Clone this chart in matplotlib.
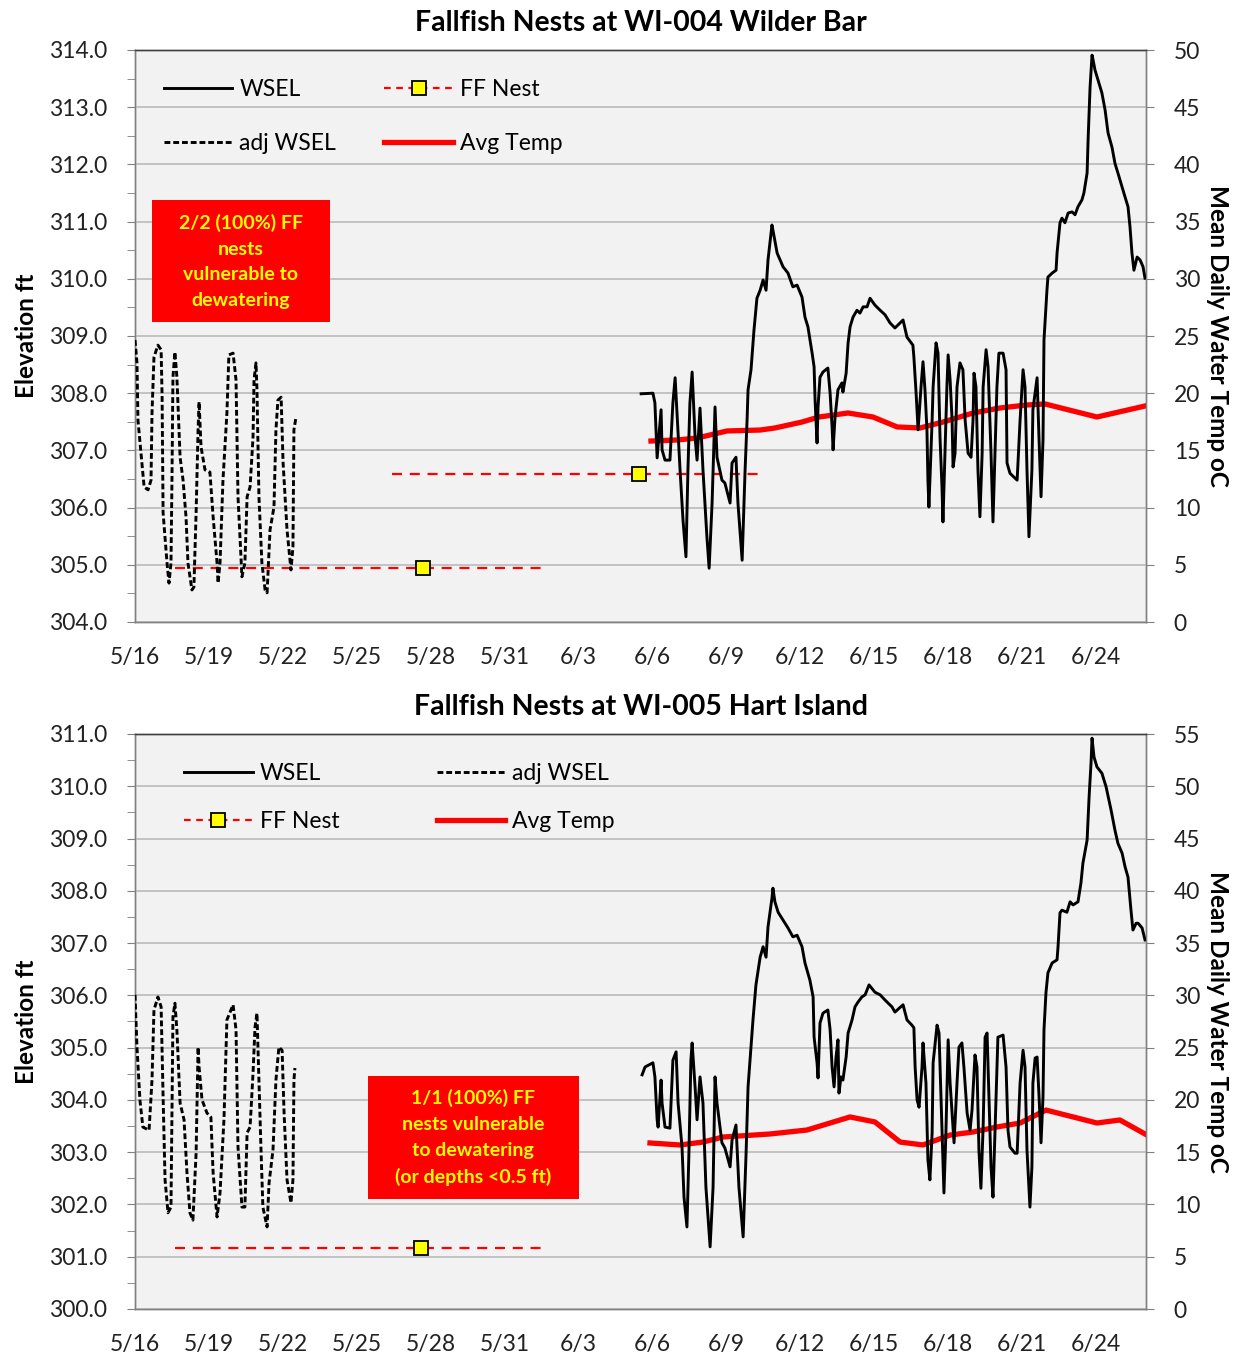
import datetime as dt
import matplotlib
matplotlib.use("Agg")
import matplotlib.pyplot as plt
from matplotlib.patches import Rectangle
from matplotlib.ticker import MultipleLocator, FormatStrFormatter

plt.rcParams['font.family'] = ['Lato', 'DejaVu Sans']

# ---------------- data (x = days since 5/16) ----------------
base_date = dt.date(2019, 5, 16)
tick_days = list(range(0, 40, 3))
tick_labels = [f"{(base_date + dt.timedelta(days=d)).month}/{(base_date + dt.timedelta(days=d)).day}" for d in tick_days]

# --- WI-004 Wilder Bar ---
top_wsel_day = [20.54, 21.02, 21.10, 21.19, 21.35, 21.39, 21.51, 21.71, 21.83, 21.92, 22.12, 22.24, 22.36, 22.44, 22.52, 22.61,
                22.73, 22.81, 22.93, 23.05, 23.21, 23.30, 23.42, 23.54, 23.62, 23.82, 23.94, 24.15, 24.23, 24.39, 24.47, 24.64,
                24.76, 24.84, 24.88, 25.00, 25.12, 25.24, 25.37, 25.49, 25.61, 25.69, 25.85, 25.89, 26.06, 26.30, 26.50, 26.70,
                26.87, 27.07, 27.19, 27.31, 27.48, 27.56, 27.60, 27.68, 27.72, 27.80, 27.92, 28.12, 28.21, 28.29, 28.33, 28.41,
                28.53, 28.69, 28.73, 28.86, 28.94, 29.02, 29.14, 29.30, 29.42, 29.55, 29.71, 29.83, 30.03, 30.24, 30.44, 30.64,
                30.84, 31.05, 31.17, 31.33, 31.57, 31.61, 31.70, 31.78, 31.90, 31.98, 32.06, 32.14, 32.18, 32.22, 32.35, 32.39,
                32.51, 32.59, 32.67, 32.75, 32.79, 32.87, 32.95, 33.00, 33.08, 33.16, 33.20, 33.28, 33.36, 33.48, 33.60, 33.69,
                33.81, 33.93, 34.01, 34.05, 34.13, 34.21, 34.29, 34.38, 34.42, 34.54, 34.62, 34.74, 34.82, 34.90, 34.98, 35.06,
                35.23, 35.35, 35.39, 35.51, 35.80, 35.92, 36.04, 36.12, 36.20, 36.28, 36.40, 36.44, 36.61, 36.69, 36.77, 36.85,
                36.89, 37.01, 37.05, 37.22, 37.38, 37.42, 37.54, 37.62, 37.74, 37.87, 38.03, 38.15, 38.27, 38.43, 38.51, 38.64,
                38.68, 38.76, 38.84, 38.88, 38.96, 39.08, 39.24, 39.37, 39.49, 39.65, 39.77, 39.89, 40.06, 40.18, 40.30, 40.38,
                40.46, 40.54, 40.67, 40.79, 40.91, 40.99]
top_wsel = [307.99, 308.00, 307.83, 306.87, 307.71, 307.01, 306.83, 306.83, 307.83, 308.27, 306.66, 305.78, 305.14, 306.66, 307.83, 308.37,
            307.23, 306.83, 307.74, 306.66, 305.49, 304.94, 306.08, 307.76, 306.88, 306.48, 306.43, 306.08, 306.78, 306.88, 306.08, 305.08,
            306.66, 307.53, 308.06, 308.41, 309.10, 309.66, 309.80, 309.98, 309.80, 310.33, 310.94, 310.85, 310.45, 310.21, 310.10, 309.86,
            309.89, 309.68, 309.33, 309.16, 308.70, 308.46, 307.88, 307.13, 307.76, 308.28, 308.37, 308.44, 308.00, 307.41, 307.01, 307.58,
            308.06, 308.18, 308.02, 308.35, 308.88, 309.16, 309.33, 309.45, 309.40, 309.51, 309.51, 309.66, 309.54, 309.45, 309.37, 309.23,
            309.14, 309.23, 309.28, 308.98, 308.84, 308.63, 308.00, 307.36, 308.11, 308.55, 308.06, 307.36, 306.48, 306.01, 307.53, 308.11,
            308.88, 308.70, 307.23, 306.36, 305.75, 306.95, 308.11, 308.67, 308.23, 307.53, 306.71, 306.95, 308.11, 308.53, 308.41, 307.53,
            306.95, 306.88, 307.53, 308.35, 308.11, 306.66, 305.84, 306.95, 308.11, 308.76, 308.46, 306.95, 305.75, 306.95, 308.11, 308.70,
            308.70, 308.41, 306.78, 306.60, 306.48, 307.53, 308.41, 308.11, 306.66, 305.49, 306.66, 307.71, 308.27, 307.18, 306.19, 307.18,
            308.93, 309.80, 310.03, 310.10, 310.15, 310.45, 310.98, 311.06, 310.98, 311.15, 311.17, 311.12, 311.26, 311.38, 311.50, 311.85,
            312.43, 313.35, 313.91, 313.83, 313.65, 313.48, 313.25, 312.95, 312.55, 312.30, 312.02, 311.85, 311.60, 311.43, 311.26, 310.91,
            310.45, 310.15, 310.38, 310.33, 310.21, 310.01]

top_adj_day = [0.00, 0.08, 0.12, 0.28, 0.37, 0.53, 0.65, 0.69, 0.77, 0.93, 1.06, 1.10, 1.14, 1.30, 1.38, 1.46, 1.50, 1.54, 1.62, 1.70,
               1.83, 1.95, 2.07, 2.15, 2.31, 2.39, 2.48, 2.56, 2.60, 2.68, 2.84, 3.04, 3.17, 3.33, 3.37, 3.45, 3.57, 3.73, 3.81, 3.98,
               4.10, 4.18, 4.34, 4.46, 4.55, 4.67, 4.79, 4.83, 4.91, 4.95, 5.03, 5.15, 5.28, 5.36, 5.48, 5.64, 5.72, 5.80, 5.93, 6.01,
               6.17, 6.33, 6.41, 6.45, 6.53]
top_adj = [308.93, 308.53, 307.53, 306.78, 306.36, 306.31, 306.48, 307.65, 308.63, 308.84, 308.76, 307.93, 305.91, 305.03, 304.68, 305.03,
           306.48, 308.28, 308.72, 308.28, 306.88, 306.48, 305.84, 305.03, 304.56, 304.61, 305.91, 307.36, 307.85, 307.06, 306.66, 306.62,
           305.84, 305.03, 304.68, 305.03, 306.48, 307.65, 308.67, 308.70, 308.23, 306.19, 304.79, 305.03, 306.19, 306.36, 307.23, 308.23,
           308.53, 308.06, 306.19, 305.03, 304.56, 304.51, 305.61, 306.01, 307.36, 307.88, 307.93, 306.78, 305.61, 304.91, 305.31, 307.36,
           307.57]

top_temp_day = [20.94, 22.00, 22.81, 23.34, 24.03, 25.37, 25.97, 27.07, 27.76, 28.94, 29.95, 30.93, 31.86, 32.79, 34.01, 35.11,
                36.20, 36.93, 39.04, 40.99]
top_temp = [15.82, 15.91, 16.08, 16.35, 16.70, 16.78, 16.96, 17.48, 17.92, 18.27, 17.92, 17.05, 16.96, 17.48, 18.27, 18.71,
            18.97, 19.06, 17.92, 18.88]

top_nest_start = [1.62, 10.43]
top_nest_day = [11.69, 20.45]
top_nest_end = [16.64, 25.45]
top_nest_elev = [304.94, 306.59]

# --- WI-005 Hart Island ---
bot_wsel_day = [20.58, 20.70, 21.02, 21.10, 21.19, 21.23, 21.35, 21.39, 21.51, 21.71, 21.83, 21.96, 22.04, 22.20, 22.28, 22.40,
                22.48, 22.56, 22.61, 22.73, 22.81, 22.93, 23.05, 23.17, 23.34, 23.46, 23.54, 23.62, 23.82, 23.94, 24.15, 24.23,
                24.39, 24.51, 24.68, 24.80, 24.88, 25.00, 25.08, 25.20, 25.37, 25.49, 25.61, 25.69, 25.85, 25.89, 25.97, 26.10,
                26.30, 26.50, 26.70, 26.87, 27.07, 27.19, 27.39, 27.52, 27.56, 27.68, 27.72, 27.80, 27.92, 28.12, 28.21, 28.29,
                28.37, 28.45, 28.53, 28.57, 28.65, 28.73, 28.86, 28.94, 29.10, 29.22, 29.34, 29.50, 29.63, 29.79, 30.03, 30.24,
                30.44, 30.72, 30.84, 31.17, 31.33, 31.53, 31.61, 31.66, 31.74, 31.82, 31.94, 31.98, 32.10, 32.18, 32.26, 32.35,
                32.39, 32.55, 32.63, 32.75, 32.83, 32.91, 33.00, 33.08, 33.20, 33.24, 33.36, 33.44, 33.56, 33.64, 33.77, 33.89,
                33.97, 34.09, 34.17, 34.25, 34.33, 34.42, 34.50, 34.58, 34.66, 34.74, 34.82, 34.90, 34.98, 35.02, 35.23, 35.35,
                35.43, 35.51, 35.71, 35.80, 35.92, 36.04, 36.12, 36.20, 36.32, 36.40, 36.44, 36.53, 36.61, 36.69, 36.77, 36.85,
                36.89, 36.97, 37.05, 37.22, 37.42, 37.46, 37.54, 37.62, 37.82, 37.95, 38.07, 38.27, 38.39, 38.47, 38.64, 38.72,
                38.80, 38.84, 38.92, 39.04, 39.24, 39.41, 39.61, 39.77, 39.89, 40.06, 40.18, 40.30, 40.42, 40.50, 40.63, 40.71,
                40.87, 40.99]
bot_wsel = [304.48, 304.63, 304.71, 304.44, 303.62, 303.48, 304.38, 303.94, 303.48, 303.46, 304.76, 304.92, 303.94, 303.10, 302.14, 301.57,
            302.98, 304.76, 305.09, 304.25, 303.62, 304.44, 303.94, 302.33, 301.19, 302.33, 304.44, 303.94, 303.18, 303.08, 302.72, 303.23,
            303.52, 302.33, 301.38, 302.98, 304.25, 305.01, 305.53, 306.20, 306.73, 306.93, 306.73, 307.31, 307.86, 308.05, 307.79, 307.59,
            307.44, 307.29, 307.12, 307.15, 306.93, 306.62, 306.29, 305.97, 305.20, 304.71, 304.42, 305.47, 305.66, 305.72, 305.34, 304.63,
            304.25, 304.82, 305.15, 304.13, 304.44, 304.38, 304.82, 305.28, 305.53, 305.78, 305.87, 305.97, 306.01, 306.20, 306.06, 306.01,
            305.91, 305.78, 305.68, 305.82, 305.53, 305.43, 305.38, 304.63, 304.00, 303.86, 304.63, 305.09, 304.32, 302.85, 302.47, 303.37,
            304.71, 305.43, 305.28, 303.48, 302.22, 303.37, 305.15, 304.32, 303.48, 303.18, 304.32, 305.01, 305.09, 304.63, 303.75, 303.42,
            303.81, 304.86, 304.63, 303.04, 302.31, 303.48, 305.20, 305.28, 304.00, 302.72, 302.14, 303.37, 304.63, 305.20, 305.24, 304.63,
            303.42, 303.10, 302.98, 302.98, 304.32, 304.95, 304.63, 303.04, 301.95, 302.72, 304.32, 304.80, 304.82, 304.06, 303.18, 304.06,
            305.34, 306.05, 306.43, 306.62, 306.68, 306.93, 307.58, 307.63, 307.59, 307.79, 307.73, 307.79, 308.15, 308.53, 308.97, 309.79,
            310.45, 310.92, 310.56, 310.37, 310.25, 309.99, 309.55, 309.16, 308.91, 308.72, 308.46, 308.26, 307.63, 307.25, 307.38, 307.38,
            307.29, 307.06]

bot_adj_day = [0.00, 0.08, 0.20, 0.32, 0.57, 0.69, 0.77, 0.93, 1.06, 1.14, 1.22, 1.34, 1.46, 1.50, 1.54, 1.62, 1.70, 1.83, 1.99, 2.11,
               2.23, 2.35, 2.48, 2.56, 2.60, 2.72, 2.92, 3.08, 3.17, 3.33, 3.45, 3.61, 3.73, 3.98, 4.10, 4.18, 4.34, 4.46, 4.55, 4.67,
               4.79, 4.87, 4.95, 4.99, 5.11, 5.19, 5.36, 5.44, 5.60, 5.72, 5.84, 5.97, 6.05, 6.17, 6.33, 6.41, 6.45, 6.49]
bot_adj = [306.01, 305.01, 304.00, 303.48, 303.42, 304.38, 305.72, 305.97, 305.78, 304.06, 302.47, 301.84, 301.95, 303.75, 305.59, 305.85,
           305.34, 303.94, 303.62, 302.60, 301.84, 301.70, 302.98, 305.01, 304.63, 304.00, 303.75, 303.67, 302.60, 301.76, 302.22, 303.62,
           305.53, 305.82, 305.34, 303.10, 301.95, 301.95, 303.37, 303.48, 304.51, 305.39, 305.66, 305.01, 303.10, 301.95, 301.57, 302.41,
           303.04, 304.38, 305.01, 304.95, 303.75, 302.47, 302.03, 302.47, 304.38, 304.61]

bot_temp_day = [20.90, 22.12, 23.05, 23.86, 25.77, 27.27, 29.02, 30.03, 31.05, 31.98, 33.08, 34.01, 34.98, 35.92, 36.97, 39.04,
                39.97, 40.99]
bot_temp = [15.88, 15.69, 15.97, 16.45, 16.74, 17.12, 18.37, 17.89, 15.97, 15.69, 16.64, 16.93, 17.41, 17.79, 19.03, 17.79,
            18.08, 16.74]

bot_nest_start = [1.62]
bot_nest_day = [11.61]
bot_nest_end = [16.64]
bot_nest_elev = [301.17]

panels = [
    dict(title="Fallfish Nests at WI-004 Wilder Bar", ylim=(304, 314), y2lim=(0, 50),
         wsel=(top_wsel_day, top_wsel), adj=(top_adj_day, top_adj), temp=(top_temp_day, top_temp),
         nests=(top_nest_start, top_nest_day, top_nest_end, top_nest_elev),
         note="2/2 (100%) FF\nnests\nvulnerable to\ndewatering",
         box=(0.0168, 0.524, 0.176, 0.213), legend_order=[0, 1, 2, 3],
         leg=dict(anchor=(0.008, 0.986), colspace=2.1, lspace=1.45)),
    dict(title="Fallfish Nests at WI-005 Hart Island", ylim=(300, 311), y2lim=(0, 55),
         wsel=(bot_wsel_day, bot_wsel), adj=(bot_adj_day, bot_adj), temp=(bot_temp_day, bot_temp),
         nests=(bot_nest_start, bot_nest_day, bot_nest_end, bot_nest_elev),
         note="1/1 (100%) FF\nnests vulnerable\nto dewatering\n(or depths <0.5 ft)",
         box=(0.230, 0.191, 0.209, 0.214), legend_order=[0, 2, 1, 3],
         leg=dict(anchor=(0.028, 0.986), colspace=4.25, lspace=1.2)),
]

W, H = 1239, 1361
fig = plt.figure(figsize=(W / 100, H / 100), dpi=100)
fig.patch.set_facecolor("white")

axes_px = [(135, 50, 1146, 622), (135, 734, 1146, 1309)]
grid_c = "#BFBFBF"
fs_tick = 16.5

for p, (x0, y0, x1, y1) in zip(panels, axes_px):
    ax = fig.add_axes([x0 / W, 1 - y1 / H, (x1 - x0) / W, (y1 - y0) / H])
    ax2 = ax.twinx()

    ax.set_xlim(0, 41.03)
    ax.set_ylim(*p["ylim"])
    ax2.set_ylim(*p["y2lim"])

    h_wsel, = ax.plot(*p["wsel"], color="black", lw=2.1, label="WSEL", zorder=4)
    h_adj, = ax.plot(*p["adj"], color="black", lw=2.1, ls=(0, (2.0, 1.0)), label="adj WSEL", zorder=4)
    ns, nd, ne, nv = p["nests"]
    for s, d, e, v in zip(ns, nd, ne, nv):
        ax.plot([s, e], [v, v], color="#FF0000", lw=1.6, ls=(0, (4.5, 3.5)), zorder=3)
        ax.plot([d], [v], ls="none", marker="s", ms=9.5, mfc="#FFFF00", mec="black", mew=1.3, zorder=6)
    leg_nest, = ax.plot([], [], color="#FF0000", lw=1.6, ls=(0, (3, 2.5)), marker="s", ms=9.5,
                        mfc="#FFFF00", mec="black", mew=1.3, label="FF Nest")
    h_temp, = ax2.plot(*p["temp"], color="#FF0000", lw=3.8, label="Avg Temp", zorder=5)

    ax.yaxis.set_major_locator(MultipleLocator(1.0))
    ax.yaxis.set_minor_locator(MultipleLocator(0.5))
    ax.yaxis.set_major_formatter(FormatStrFormatter("%.1f"))
    ax2.yaxis.set_major_locator(MultipleLocator(5))
    ax.grid(axis="y", which="major", color=grid_c, lw=1.3, zorder=0)
    ax.set_axisbelow(True)

    ax.set_xticks(tick_days)
    ax.set_xticklabels(tick_labels)
    ax.tick_params(axis="x", length=0, labelsize=fs_tick, pad=18, colors="#222222")
    ax.tick_params(axis="y", which="both", direction="out", length=6, color="#808080",
                   labelsize=fs_tick, pad=14, labelcolor="#222222")
    ax2.tick_params(axis="y", direction="out", length=6, color="#808080", labelsize=fs_tick, pad=14,
                    labelcolor="#222222")
    for a in (ax, ax2):
        for sp in a.spines.values():
            sp.set_color("#808080")
            sp.set_linewidth(1.0)
        a.spines["top"].set_color("#404040")

    ax.set_ylabel("Elevation ft", fontsize=17.5, fontweight="bold", labelpad=8)
    ax2.set_ylabel("Mean Daily Water Temp oC", fontsize=17.5, fontweight="bold", rotation=270, labelpad=21)
    ax.set_title(p["title"], fontsize=20.5, fontweight="bold", pad=14)

    handles = [h_wsel, h_adj, leg_nest, h_temp]
    handles = [handles[i] for i in p["legend_order"]]
    leg = ax.legend(handles=handles, loc="upper left", bbox_to_anchor=p["leg"]["anchor"], ncol=2,
                    frameon=False, fontsize=16.5, handlelength=3.0, handletextpad=0.3,
                    columnspacing=p["leg"]["colspace"], labelspacing=p["leg"]["lspace"])
    leg.set_zorder(10)

    bx, by, bw, bh = p["box"]
    ax.add_patch(Rectangle((bx, by), bw, bh, transform=ax.transAxes, facecolor="#FF0000",
                           edgecolor="none", zorder=8))
    ax.text(bx + bw / 2, by + bh / 2, p["note"], transform=ax.transAxes, ha="center", va="center",
            color="#FFFF00", fontsize=14, fontweight="bold", linespacing=1.62, zorder=9)

    ax2.set_zorder(0)
    ax.set_zorder(1)
    ax.patch.set_visible(False)
    ax2.patch.set_visible(True)
    ax2.patch.set_facecolor("#F2F2F2")

fig.savefig("out.png", dpi=100)
